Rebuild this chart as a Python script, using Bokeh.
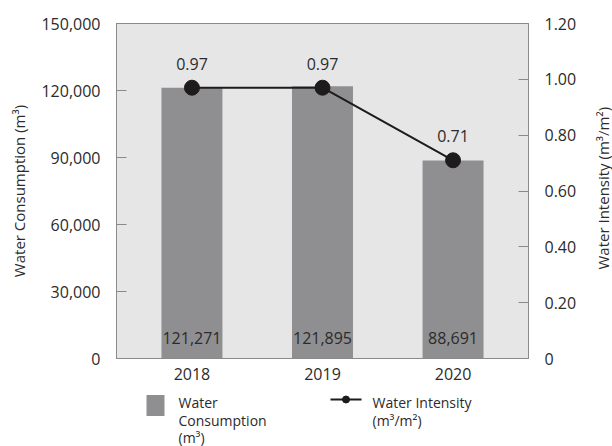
import math
from bokeh.plotting import figure
from bokeh.layouts import column, row
from bokeh.models import (ColumnDataSource, FactorRange, Range1d, LinearAxis,
                          FixedTicker, NumeralTickFormatter)
from bokeh.core.properties import value
from bokeh.embed import file_html
from bokeh.resources import INLINE

# --- data ---
years = ["2018", "2019", "2020"]
consumption = [121271, 121895, 88691]          # m³
intensity = [0.97, 0.97, 0.71]                 # m³/m²
consumption_ticks = [0, 30000, 60000, 90000, 120000, 150000]
intensity_ticks = [0.0, 0.2, 0.4, 0.6, 0.8, 1.0, 1.2]

FONT = "Open Sans"
TEXT = "#2b2b2b"
BAR = "#8f8f92"
BG = "#e6e6e7"
FRAME = "#8a8a8a"
LINE = "#1e1b1c"

src = ColumnDataSource(dict(
    year=years,
    cons=consumption,
    cons_label=[f"{v:,}" for v in consumption],
    inten=intensity,
    inten_label=[f"{v:.2f}" for v in intensity],
))

p = figure(width=588, height=383,
           x_range=FactorRange(*years, range_padding=0.052),
           y_range=Range1d(0, 150000),
           output_backend="svg", toolbar_location=None,
           min_border_left=116, min_border_right=60,
           min_border_top=23, min_border_bottom=25)
p.extra_y_ranges = {"intensity": Range1d(0, 1.2)}

p.background_fill_color = BG
p.border_fill_color = "white"
p.outline_line_color = FRAME
p.outline_line_width = 1
p.xgrid.visible = False
p.ygrid.visible = False

# bars: water consumption
p.vbar(x="year", top="cons", width=0.467, source=src,
       fill_color=BAR, line_color=None)
p.text(x="year", y=0, text="cons_label", source=src,
       text_align="center", text_baseline="middle", y_offset=-21,
       text_font=value(FONT), text_font_size="16px", text_color=TEXT)

# line: water intensity
p.line(x="year", y="inten", source=src, y_range_name="intensity",
       line_color=LINE, line_width=2)
p.scatter(x="year", y="inten", source=src, y_range_name="intensity",
          size=15, fill_color=LINE, line_color=LINE)
p.text(x="year", y="inten", text="inten_label", source=src,
       y_range_name="intensity",
       text_align="center", text_baseline="middle", y_offset=-24,
       text_font=value(FONT), text_font_size="16px", text_color=TEXT)

# left axis
ya = p.yaxis[0]
ya.ticker = FixedTicker(ticks=consumption_ticks)
ya.formatter = NumeralTickFormatter(format="0,0")
ya.axis_label = "Water Consumption (m³)"

# right axis (its title sits in a narrow strip to the right, reading bottom-to-top)
ra = LinearAxis(y_range_name="intensity",
                ticker=FixedTicker(ticks=intensity_ticks),
                formatter=NumeralTickFormatter(format="0.00"),
                major_label_overrides={0: "0"})
p.add_layout(ra, "right")

for ax in (ya, ra):
    ax.major_tick_in = 10
    ax.major_tick_out = 0
    ax.minor_tick_in = 0
    ax.minor_tick_out = 0
    ax.major_tick_line_color = FRAME
    ax.axis_line_color = FRAME
    ax.major_label_standoff = 16
    ax.axis_label_standoff = 9
    ax.major_label_text_font = FONT
    ax.major_label_text_font_size = "16px"
    ax.major_label_text_color = TEXT
    ax.axis_label_text_font = FONT
    ax.axis_label_text_font_size = "15px"
    ax.axis_label_text_font_style = "normal"
    ax.axis_label_text_color = TEXT

xa = p.xaxis[0]
xa.major_tick_in = 0
xa.major_tick_out = 0
xa.axis_line_color = FRAME
xa.major_label_standoff = 9
xa.major_label_text_font = FONT
xa.major_label_text_font_size = "16px"
xa.major_label_text_color = TEXT

# strip holding the right-hand axis title
side = figure(width=24, height=383, x_range=Range1d(0, 24),
              y_range=p.extra_y_ranges["intensity"],
              output_backend="svg", toolbar_location=None,
              min_border_left=0, min_border_right=0,
              min_border_top=23, min_border_bottom=25)
side.axis.visible = False
side.grid.visible = False
side.outline_line_color = None
side.background_fill_color = "white"
side.border_fill_color = "white"
side.text(x=[14], y=[0.61], text=["Water Intensity (m³/m²)"], angle=math.pi / 2,
          text_align="center", text_baseline="middle", text_font=value(FONT),
          text_font_size="15px", text_color=TEXT)

# legend strip below the chart; x in page pixels, y measured from the strip's top
lg = figure(width=612, height=63, x_range=Range1d(116, 528), y_range=Range1d(63, 0),
            output_backend="svg", toolbar_location=None,
            min_border_left=116, min_border_right=84,
            min_border_top=0, min_border_bottom=0)
lg.axis.visible = False
lg.grid.visible = False
lg.outline_line_color = None
lg.background_fill_color = "white"
lg.border_fill_color = "white"

lg.rect(x=[155], y=[22], width=18, height=21, fill_color=BAR, line_color=None)
lg.text(x=[178, 178, 178], y=[19, 37, 54],
        text=["Water", "Consumption", "(m³)"],
        text_baseline="middle", text_font=value(FONT),
        text_font_size="14px", text_color=TEXT)

lg.line(x=[330, 361], y=[16, 16], line_color=LINE, line_width=2)
lg.scatter(x=[345.5], y=[16], size=7, fill_color=LINE, line_color=LINE)
lg.text(x=[372, 372], y=[19, 37],
        text=["Water Intensity", "(m³/m²)"],
        text_baseline="middle", text_font=value(FONT),
        text_font_size="14px", text_color=TEXT)

layout = column(row(p, side, spacing=0), lg, spacing=0)
open("out.html", "w").write(file_html(layout, INLINE))
